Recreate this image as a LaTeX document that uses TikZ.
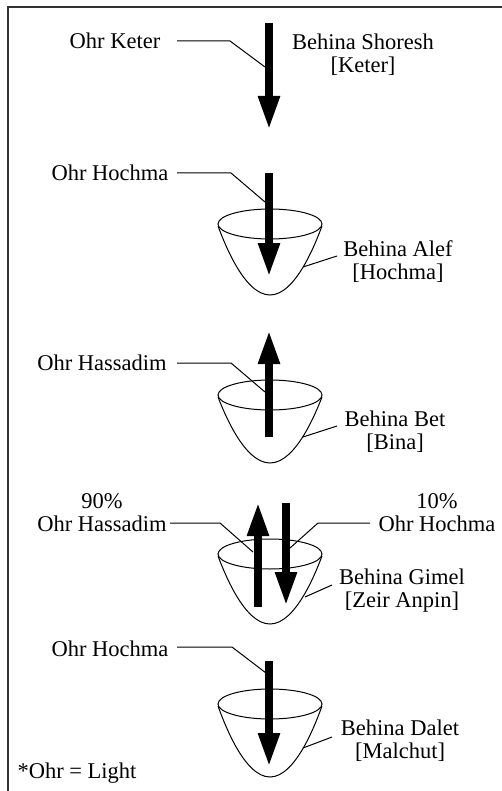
\documentclass[tikz,border=0pt]{standalone}
\usepackage{fontspec}
\setmainfont{Liberation Serif}
\usetikzlibrary{arrows.meta}
\begin{document}
\begin{tikzpicture}[x=0.5pt,y=-0.5pt,
  lbl/.style={inner sep=0pt, font=\fontsize{11.25}{11.5}\selectfont, align=center},
  lead/.style={line width=0.5pt},
  cupline/.style={line width=0.5pt},
  ray/.style={line width=4pt, -{Triangle[width=10pt,length=17pt]}},
  frameline/.style={line width=1pt, black!80}]
\useasboundingbox (0,0) rectangle (502,791);
% frame (top and left only)
\draw[frameline] (8,791) -- (8,7) -- (502,7);

% ---------- Section 1: Behina Shoresh ----------
\node[lbl] (okt) at (115,41) {Ohr Keter};
\node[lbl] (bs) at (363,55) {Behina Shoresh\\{}[Keter]};
\coordinate (a1s) at (269,23);
\coordinate (a1e) at (269,130);
\coordinate (l1a) at (177,41);
\coordinate (l1b) at (230,41);
\coordinate (l1c) at (265,67);
\draw[lead] (l1a) -- (l1b) -- (l1c);
\draw[ray] (a1s) -- (a1e);

% ---------- Section 2: Behina Alef ----------
\draw[cupline] (270,224) ellipse [x radius=52, y radius=15];
\draw[cupline] (218,226) parabola bend (270,295) (322,226);
\node[lbl] (oh2) at (110,173) {Ohr Hochma};
\node[lbl] (ba) at (398,262) {Behina Alef\\{}[Hochma]};
\coordinate (a2s) at (269,173);
\coordinate (a2e) at (269,277);
\coordinate (l2a) at (177,173);
\coordinate (l2b) at (231,173);
\coordinate (l2c) at (265,202);
\coordinate (c2a) at (303,267);
\coordinate (c2b) at (337,256);
\draw[lead] (l2a) -- (l2b) -- (l2c);
\draw[lead] (c2a) -- (c2b);
\draw[ray] (a2s) -- (a2e);

% ---------- Section 3: Behina Bet ----------
\draw[cupline] (270,395) ellipse [x radius=52, y radius=15];
\draw[cupline] (218,397) parabola bend (270,463) (322,397);
\node[lbl] (oh3) at (102,363) {Ohr Hassadim};
\node[lbl] (bb) at (395,432) {Behina Bet\\{}[Bina]};
\coordinate (a3s) at (269,437);
\coordinate (a3e) at (269,330);
\coordinate (l3a) at (177,363);
\coordinate (l3b) at (231,363);
\coordinate (l3c) at (265,392);
\coordinate (c3a) at (303,437);
\coordinate (c3b) at (337,426);
\draw[lead] (l3a) -- (l3b) -- (l3c);
\draw[lead] (c3a) -- (c3b);
\draw[ray] (a3s) -- (a3e);

% ---------- Section 4: Behina Gimel ----------
\draw[cupline] (270,554) ellipse [x radius=52, y radius=15];
\draw[cupline] (218,556) parabola bend (270,624) (322,556);
\node[lbl] (oh4) at (102,513) {90\%\\Ohr Hassadim};
\node[lbl] (oc4) at (437,513) {10\%\\Ohr Hochma};
\node[lbl] (bg) at (402,591) {Behina Gimel\\{}[Zeir Anpin]};
\coordinate (a4us) at (258,607);
\coordinate (a4ue) at (258,502);
\coordinate (a4ds) at (286,503);
\coordinate (a4de) at (286,606);
\coordinate (l4a) at (170,523);
\coordinate (l4b) at (220,523);
\coordinate (l4c) at (253,552);
\coordinate (r4a) at (370,523);
\coordinate (r4b) at (318,523);
\coordinate (r4c) at (290,548);
\coordinate (c4a) at (305,597);
\coordinate (c4b) at (332,585);
\draw[lead] (l4a) -- (l4b) -- (l4c);
\draw[lead] (r4a) -- (r4b) -- (r4c);
\draw[lead] (c4a) -- (c4b);
\draw[ray] (a4us) -- (a4ue);
\draw[ray] (a4ds) -- (a4de);

% ---------- Section 5: Behina Dalet ----------
\draw[cupline] (270,704) ellipse [x radius=52, y radius=15];
\draw[cupline] (218,706) parabola bend (270,777) (322,706);
\node[lbl] (oh5) at (110,649) {Ohr Hochma};
\node[lbl] (bd) at (400,741) {Behina Dalet\\{}[Malchut]};
\coordinate (a5s) at (269,661);
\coordinate (a5e) at (269,767);
\coordinate (l5a) at (177,647);
\coordinate (l5b) at (232,647);
\coordinate (l5c) at (266,673);
\coordinate (c5a) at (303,748);
\coordinate (c5b) at (332,737);
\draw[lead] (l5a) -- (l5b) -- (l5c);
\draw[lead] (c5a) -- (c5b);
\draw[ray] (a5s) -- (a5e);

% ---------- footnote ----------
\node[lbl] (note) at (77,773) {*Ohr = Light};
\end{tikzpicture}
\end{document}
